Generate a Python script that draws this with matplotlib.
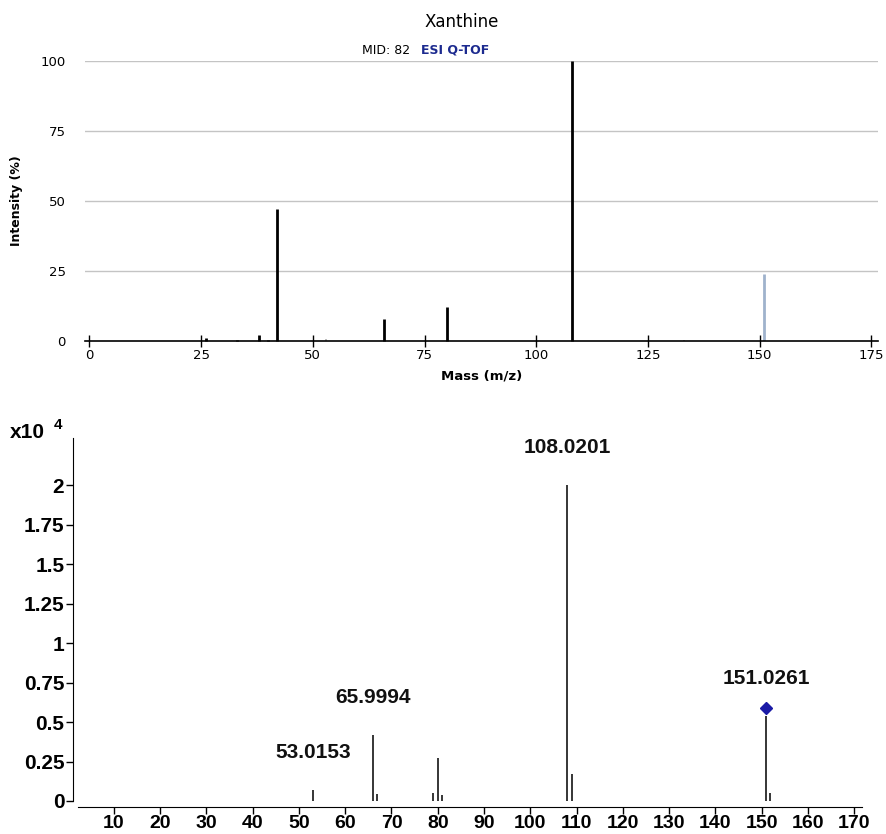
import matplotlib
matplotlib.use('Agg')
import matplotlib.pyplot as plt
from matplotlib.ticker import FuncFormatter

# Top panel: reference spectrum (relative intensity, %)
ref_mz = [26, 33, 38, 40, 42, 66, 80, 108]
ref_int = [1.2, 0.3, 2.0, 0.4, 47, 8, 12, 100]
ref_minor_mz = [53, 133]
ref_minor_int = [0.8, 0.4]
ref_prec_mz = [151]
ref_prec_int = [24]

# Bottom panel: measured spectrum (counts x10^4)
ms_mz = [53.0153, 65.9994, 66.9, 78.9, 80.0, 80.9, 108.0201, 109.0, 151.0261, 151.9]
ms_int = [0.07, 0.42, 0.045, 0.05, 0.27, 0.04, 2.0, 0.17, 0.54, 0.05]
labeled_mz = [53.0153, 65.9994, 108.0201, 151.0261]
labeled_int = [0.07, 0.42, 2.0, 0.54]
precursor_mz = 151.0261
precursor_int = 0.59

top_xticks = [0, 25, 50, 75, 100, 125, 150, 175]
top_yticks = [0, 25, 50, 75, 100]
bot_xticks = list(range(10, 180, 10))
bot_yticks = [0, 0.25, 0.5, 0.75, 1, 1.25, 1.5, 1.75, 2]

W, H = 886, 834
fig = plt.figure(figsize=(W / 100, H / 100), dpi=100)

# ---- top panel
ax1 = fig.add_axes([85 / W, 1 - 341 / H, 793 / W, 280 / H])
ax1.set_xlim(-1, 176.5)
ax1.set_ylim(0, 100)
for y in top_yticks[1:]:
    ax1.axhline(y, color='#c4c4c4', lw=1.0, zorder=0)
ax1.vlines(ref_mz, 0, ref_int, color='black', lw=2.0, clip_on=False)
ax1.vlines(ref_minor_mz, 0, ref_minor_int, color='#b0b0b0', lw=1.2)
ax1.vlines(ref_prec_mz, 0, ref_prec_int, color='#9fb2cc', lw=2.0)
for s in ['left', 'right', 'top']:
    ax1.spines[s].set_visible(False)
ax1.spines['bottom'].set_linewidth(1.2)
ax1.set_xticks(top_xticks)
ax1.set_yticks(top_yticks)
ax1.tick_params(axis='x', direction='inout', length=9, width=1.0, labelsize=9.5, pad=1)
ax1.tick_params(axis='y', length=0, labelsize=9.5, pad=14)
ax1.set_xlabel('Mass (m/z)', fontsize=9.5, fontweight='bold', labelpad=6)
ax1.set_ylabel('Intensity (%)', fontsize=9, fontweight='bold')
ax1.yaxis.set_label_coords(-0.078, 0.5)
fig.text(462 / W, 1 - 22 / H, 'Xanthine', ha='center', va='center', fontsize=12)
fig.text(410 / W, 1 - 50 / H, 'MID: 82', ha='right', va='center', fontsize=9)
fig.text(421 / W, 1 - 50 / H, 'ESI Q-TOF', ha='left', va='center', fontsize=9,
         fontweight='bold', color='#1c2a8f')

# ---- bottom panel
ax2 = fig.add_axes([72.7 / W, 1 - 801 / H, (862 - 72.7) / W, 363 / H])
ax2.set_xlim(1.1, 171.7)
ax2.set_ylim(0, 2.3)
ax2.vlines(ms_mz, 0, ms_int, color='black', lw=1.1)
ax2.plot([precursor_mz], [precursor_int], marker='D', color='#1a1aa6', markersize=6,
         linestyle='none', clip_on=False)
for mz, inten in zip(labeled_mz, labeled_int):
    ax2.annotate(f'{mz:.4f}', (mz, inten), xytext=(0, 27), textcoords='offset points',
                 ha='center', va='center', fontsize=15, fontweight='bold',
                 family='Liberation Sans', color='#111111')
for s in ['right', 'top']:
    ax2.spines[s].set_visible(False)
ax2.spines['bottom'].set_position(('outward', 4))
ax2.spines['bottom'].set_bounds(2.3, 171.7)
ax2.set_xticks(bot_xticks)
ax2.set_yticks(bot_yticks)
ax2.yaxis.set_major_formatter(FuncFormatter(lambda v, p: f'{v:g}'))
ax2.tick_params(axis='both', direction='out', length=5, width=1.0, labelsize=15)
ax2.tick_params(axis='x', pad=1, labelsize=14)
ax2.tick_params(axis='y', pad=1)
for lab in ax2.get_xticklabels() + ax2.get_yticklabels():
    lab.set_fontweight('bold')
    lab.set_family('Liberation Sans')
fig.text(10 / W, 1 - 432 / H, 'x10', ha='left', va='center', fontsize=15,
         fontweight='bold', family='Liberation Sans')
fig.text(54 / W, 1 - 425 / H, '4', ha='left', va='center', fontsize=11,
         fontweight='bold', family='Liberation Sans')

fig.savefig('out.png', dpi=100)
